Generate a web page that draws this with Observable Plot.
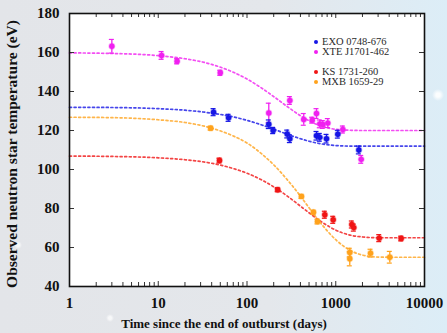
<!DOCTYPE html>
<html><head><meta charset="utf-8">
<script src="https://cdn.jsdelivr.net/npm/d3@7"></script>
<script src="https://cdn.jsdelivr.net/npm/@observablehq/plot@0.6"></script>
<style>
html,body{margin:0;padding:0;}
body{width:447px;height:333px;overflow:hidden;
background:
 radial-gradient(circle at 330px 300px, rgba(255,255,255,0.7) 0 2px, transparent 5px),
 radial-gradient(circle at 18px 245px, rgba(255,255,255,0.7) 0 1.5px, transparent 4px),
 radial-gradient(circle at 110px 318px, rgba(255,255,255,0.7) 0 1.5px, transparent 4px),
 radial-gradient(circle at 438px 95px, rgba(255,255,255,0.9) 0 2px, transparent 6px),
 linear-gradient(90deg,#e3e5e9 0%,#e4e7eb 60%,#dcedf7 100%);}
#wrap{position:relative;width:447px;height:333px;}
#legend{position:absolute;left:314px;top:37px;font:10.5px "Liberation Serif",serif;color:#2a2a2a;line-height:10px;}
#legend .row{height:10px;line-height:10px;white-space:nowrap;}
#legend .gap{height:9.5px;}
#legend .dot{display:inline-block;width:4px;height:4px;border-radius:50%;margin-right:4px;vertical-align:1px;}
</style></head>
<body><div id="wrap"></div>
<script>
// ---- data ----
const seriesNames = ["EXO 0748-676", "XTE J1701-462", "KS 1731-260", "MXB 1659-29"];
const seriesColors = ["#1616e6", "#f020f0", "#f01515", "#ffa21c"];

const exoT    = [42, 62, 176, 197, 284, 304, 607, 661, 787, 1055, 1820];
const exoTemp = [129.4, 126.5, 123.2, 120.0, 118.2, 115.8, 117.3, 116.5, 115.8, 118.1, 110.0];
const exoErr  = [1.8, 1.8, 2.2, 1.6, 2.0, 2.0, 2.2, 2.0, 2.2, 2.0, 2.0];

const xteT    = [3, 10.9, 16.3, 50, 176, 304, 436, 543, 607, 661, 715, 814, 1202, 1936];
const xteTemp = [163.2, 158.5, 155.5, 149.6, 129.0, 135.4, 125.7, 125.3, 128.7, 123.4, 123.1, 123.8, 120.5, 105.2];
const xteErr  = [3.5, 2.0, 1.3, 1.3, 5.0, 2.0, 3.0, 1.5, 2.5, 2.0, 2.0, 2.3, 1.8, 2.0];

const ksT     = [49, 222, 753, 936, 1517, 1597, 3090, 5460];
const ksTemp  = [104.6, 89.6, 76.8, 74.2, 71.8, 70.2, 64.8, 64.6];
const ksErr   = [1.2, 1.0, 1.8, 1.8, 1.8, 1.8, 1.8, 1.2];

const mxbT    = [39, 411, 561, 623, 1439, 1439, 2465, 4064];
const mxbTemp = [121.2, 86.2, 78.1, 73.3, 57.4, 54.2, 57.1, 55.0];
const mxbErr  = [1.0, 1.0, 1.0, 1.2, 2.2, 3.6, 2.0, 3.0];

// fitted cooling curves
const fitT   = [1, 3, 10, 20, 40, 70, 100, 150, 200, 300, 400, 500, 700, 1000, 1500, 2000, 3000, 5000, 10000];
const fitEXO = [131.9, 131.8, 131.2, 130.4, 128.9, 127.0, 125.2, 122.7, 120.7, 117.7, 115.8, 114.5, 113.1, 112.3, 112.0, 112.0, 112.0, 112.0, 112.0];
const fitXTE = [159.8, 159.5, 158.4, 156.8, 153.9, 149.9, 146.4, 141.4, 137.4, 131.5, 127.6, 125.0, 122.2, 120.6, 120.1, 120.0, 120.0, 120.0, 120.0];
const fitKS  = [106.9, 106.7, 106.0, 105.0, 103.2, 100.5, 98.1, 94.4, 91.1, 85.6, 81.2, 77.8, 73.0, 68.9, 66.2, 65.4, 65.0, 65.0, 65.0];
const fitMXB = [126.8, 126.6, 125.5, 124.1, 121.2, 117.2, 113.6, 107.6, 102.4, 93.5, 86.4, 80.4, 71.7, 64.0, 58.2, 56.1, 55.1, 55.0, 55.0];

const xMajorTicks = [1, 10, 100, 1000, 10000];
const yTicks = [40, 60, 80, 100, 120, 140, 160, 180];

// ---- build tables ----
const pts = [];
[[exoT, exoTemp, exoErr], [xteT, xteTemp, xteErr], [ksT, ksTemp, ksErr], [mxbT, mxbTemp, mxbErr]].forEach(([t, v, e], s) => {
  t.forEach((d, i) => pts.push({s: seriesNames[s], t: d, v: v[i], lo: v[i] - e[i], hi: v[i] + e[i]}));
});
const fits = [];
[fitEXO, fitXTE, fitKS, fitMXB].forEach((arr, s) => arr.forEach((v, i) => fits.push({s: seriesNames[s], t: fitT[i], v})));

const xMinorTicks = [];
for (let d = 1; d < 10000; d *= 10) for (let k = 2; k <= 9; k++) xMinorTicks.push(k * d);

const W = 447, H = 333, mL = 69, mR = 23, mT = 13, mB = 47;
const pw = W - mL - mR, ph = H - mT - mB;
const font = "Liberation Serif";
const tickColor = "#333";

const chart = Plot.plot({
  width: W, height: H,
  marginLeft: mL, marginRight: mR, marginTop: mT, marginBottom: mB,
  style: {background: "transparent", overflow: "visible"},
  x: {type: "log", domain: [1, 10000]},
  y: {domain: [40, 180]},
  color: {domain: seriesNames, range: seriesColors},
  marks: [
    Plot.frame({fill: "white", stroke: null}),
    // dotted fit curves
    Plot.line(fits, {x: "t", y: "v", z: "s", stroke: "s", curve: "monotone-x", strokeWidth: 1.7, strokeDasharray: "2,2.6", strokeOpacity: 0.8}),
    // error bars
    Plot.ruleX(pts, {x: "t", y1: "lo", y2: "hi", stroke: "s", strokeWidth: 1.3}),
    Plot.ruleY(pts, {y: "lo", x1: "t", x2: "t", insetLeft: -2.5, insetRight: -2.5, stroke: "s", strokeWidth: 1.2}),
    Plot.ruleY(pts, {y: "hi", x1: "t", x2: "t", insetLeft: -2.5, insetRight: -2.5, stroke: "s", strokeWidth: 1.2}),
    Plot.dot(pts, {x: "t", y: "v", fill: "s", r: 2.7, stroke: "s", strokeOpacity: 0.35, strokeWidth: 1.5}),
    // inward ticks
    Plot.tickX(xMajorTicks, {x: d => d, insetTop: ph - 5, stroke: tickColor}),
    Plot.tickX(xMajorTicks, {x: d => d, insetBottom: ph - 5, stroke: tickColor}),
    Plot.tickX(xMinorTicks, {x: d => d, insetTop: ph - 4, stroke: tickColor}),
    Plot.tickX(xMinorTicks, {x: d => d, insetBottom: ph - 4, stroke: tickColor}),
    Plot.tickY(yTicks, {y: d => d, insetRight: pw - 5, stroke: tickColor}),
    Plot.tickY(yTicks, {y: d => d, insetLeft: pw - 5, stroke: tickColor}),
    Plot.frame({stroke: "#111", strokeWidth: 1.6}),
    // axes
    Plot.axisX({ticks: xMajorTicks, tickFormat: d => String(d), tickSize: 0, tickPadding: 11, label: null,
      fontSize: 15, fontWeight: "bold", fontFamily: font, fill: "#111"}),
    Plot.axisY({ticks: yTicks, tickSize: 0, tickPadding: 10, label: null,
      fontSize: 15, fontWeight: "bold", fontFamily: font, fill: "#111"}),
    Plot.text(["Time since the end of outburst (days)"], {frameAnchor: "bottom", dx: -23, dy: 41,
      fontSize: 13, fontWeight: "bold", fontFamily: font, fill: "#111"}),
    Plot.text(["Observed neutron star temperature (eV)"], {frameAnchor: "left", textAnchor: "middle", dx: -57, dy: 4, rotate: -90,
      fontSize: 15.5, fontWeight: "bold", fontFamily: font, fill: "#111"})
  ]
});
const wrap = document.getElementById("wrap");
wrap.appendChild(chart);

const legend = document.createElement("div");
legend.id = "legend";
seriesNames.forEach((n, i) => {
  if (i === 2) { const g = document.createElement("div"); g.className = "gap"; legend.appendChild(g); }
  const row = document.createElement("div");
  row.className = "row";
  row.innerHTML = `<span class="dot" style="background:${seriesColors[i]}"></span>${n}`;
  legend.appendChild(row);
});
wrap.appendChild(legend);
</script>
</body></html>
